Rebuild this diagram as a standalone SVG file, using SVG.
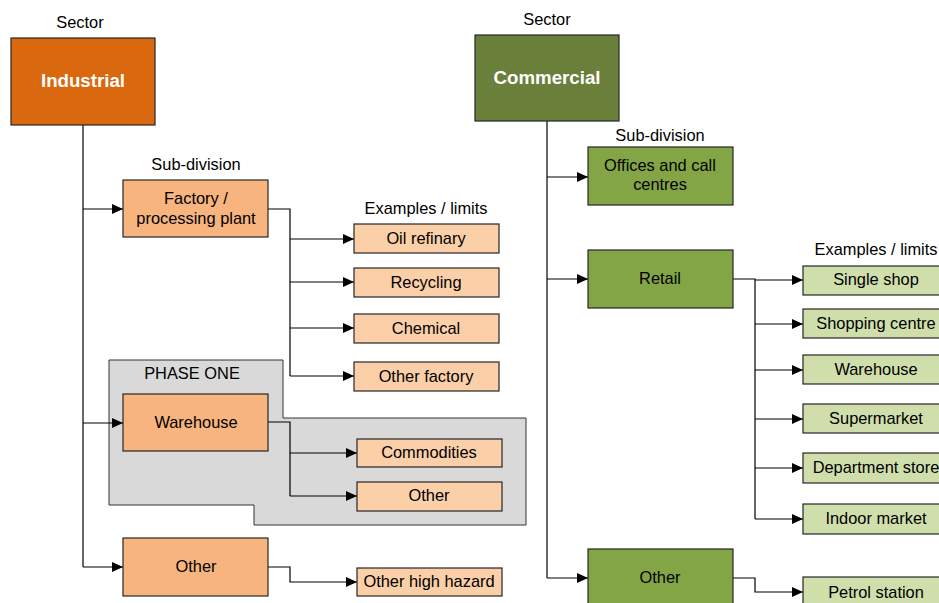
<svg xmlns="http://www.w3.org/2000/svg" width="939" height="603" viewBox="0 0 939 603">
<style>
text{font-family:"Liberation Sans",Arial,sans-serif;font-size:16.4px;fill:#000;text-anchor:middle}
.h{font-size:16.4px}
.t{font-size:18.7px;font-weight:bold;fill:#fff}
.box{stroke:#262626;stroke-width:1.2}
.ind{fill:#D9680F}.isub{fill:#F7B47E}.iex{fill:#FBCFA8}
.com{fill:#6A7F3A}.csub{fill:#84A546}.cex{fill:#CFDEAB}
.c{fill:none;stroke:#000;stroke-width:1.2}
</style>
<defs>
<marker id="a" markerWidth="12" markerHeight="10" refX="11" refY="5" orient="auto" markerUnits="userSpaceOnUse">
<path d="M0,0 L11,5 L0,10 z" fill="#000"/>
</marker>
</defs>
<rect width="939" height="603" fill="#fff"/>
<g id="phase-one">
<path d="M109,360 H283 V418 H526 V525 H254 V505 H109 Z" fill="#D9D9D9" stroke="#333" stroke-width="1"/>
<text x="192" y="379">PHASE ONE</text>
</g>
<g id="labels">
<text class="h" x="80" y="28">Sector</text>
<text class="h" x="196" y="170">Sub-division</text>
<text class="h" x="426" y="214">Examples / limits</text>
<text class="h" x="547" y="25">Sector</text>
<text class="h" x="660" y="141">Sub-division</text>
<text class="h" x="876" y="255">Examples / limits</text>
</g>
<g id="connectors">
<path class="c" d="M83,125 V567"/>
<path class="c" d="M83,209 H123" marker-end="url(#a)"/>
<path class="c" d="M83,423 H123" marker-end="url(#a)"/>
<path class="c" d="M83,567 H123" marker-end="url(#a)"/>
<path class="c" d="M268,209 H290 V376"/>
<path class="c" d="M290,239 H354" marker-end="url(#a)"/>
<path class="c" d="M290,282 H354" marker-end="url(#a)"/>
<path class="c" d="M290,328 H354" marker-end="url(#a)"/>
<path class="c" d="M290,376 H354" marker-end="url(#a)"/>
<path class="c" d="M268,422 H290 V496"/>
<path class="c" d="M290,453 H357" marker-end="url(#a)"/>
<path class="c" d="M290,496 H357" marker-end="url(#a)"/>
<path class="c" d="M268,567 H290 V582 H357" marker-end="url(#a)"/>
<path class="c" d="M547,121 V578"/>
<path class="c" d="M547,177 H588" marker-end="url(#a)"/>
<path class="c" d="M547,279 H588" marker-end="url(#a)"/>
<path class="c" d="M547,578 H588" marker-end="url(#a)"/>
<path class="c" d="M733,279 H755 V519"/>
<path class="c" d="M755,280 H803" marker-end="url(#a)"/>
<path class="c" d="M755,324 H803" marker-end="url(#a)"/>
<path class="c" d="M755,370 H803" marker-end="url(#a)"/>
<path class="c" d="M755,419 H803" marker-end="url(#a)"/>
<path class="c" d="M755,468 H803" marker-end="url(#a)"/>
<path class="c" d="M755,519 H803" marker-end="url(#a)"/>
<path class="c" d="M733,578 H755 V592 H803" marker-end="url(#a)"/>
</g>
<g id="industrial"><rect class="box ind" x="11" y="38" width="144" height="87"/><text class="t" x="83" y="87">Industrial</text></g>
<g id="factory"><rect class="box isub" x="123" y="180" width="145" height="57"/><text x="196" y="204">Factory /</text><text x="196" y="224">processing plant</text></g>
<g id="oil"><rect class="box iex" x="354" y="224" width="145" height="29"/><text x="426" y="244">Oil refinary</text></g>
<g id="recycling"><rect class="box iex" x="354" y="268" width="145" height="29"/><text x="426" y="288">Recycling</text></g>
<g id="chemical"><rect class="box iex" x="354" y="314" width="145" height="29"/><text x="426" y="334">Chemical</text></g>
<g id="otherfactory"><rect class="box iex" x="354" y="362" width="145" height="29"/><text x="426" y="382">Other factory</text></g>
<g id="warehouse-i"><rect class="box isub" x="123" y="394" width="145" height="57"/><text x="196" y="428">Warehouse</text></g>
<g id="commodities"><rect class="box iex" x="357" y="439" width="145" height="28"/><text x="429" y="458">Commodities</text></g>
<g id="other-w"><rect class="box iex" x="357" y="482" width="145" height="29"/><text x="429" y="501">Other</text></g>
<g id="other-i"><rect class="box isub" x="123" y="538" width="145" height="58"/><text x="196" y="572">Other</text></g>
<g id="highhazard"><rect class="box iex" x="357" y="568" width="145" height="28"/><text x="429" y="587">Other high hazard</text></g>
<g id="commercial"><rect class="box com" x="475" y="35" width="144" height="86"/><text class="t" x="547" y="84">Commercial</text></g>
<g id="offices"><rect class="box csub" x="588" y="147" width="145" height="58"/><text x="660" y="171">Offices and call</text><text x="660" y="190">centres</text></g>
<g id="retail"><rect class="box csub" x="588" y="250" width="145" height="58"/><text x="660" y="284">Retail</text></g>
<g id="singleshop"><rect class="box cex" x="803" y="266" width="146" height="29"/><text x="876" y="285">Single shop</text></g>
<g id="shoppingcentre"><rect class="box cex" x="803" y="309" width="146" height="29"/><text x="876" y="329">Shopping centre</text></g>
<g id="warehouse-c"><rect class="box cex" x="803" y="355" width="146" height="29"/><text x="876" y="375">Warehouse</text></g>
<g id="supermarket"><rect class="box cex" x="803" y="404" width="146" height="29"/><text x="876" y="424">Supermarket</text></g>
<g id="deptstore"><rect class="box cex" x="803" y="453" width="146" height="30"/><text x="876" y="473">Department store</text></g>
<g id="indoormarket"><rect class="box cex" x="803" y="504" width="146" height="30"/><text x="876" y="524">Indoor market</text></g>
<g id="other-c"><rect class="box csub" x="588" y="549" width="145" height="58"/><text x="660" y="583">Other</text></g>
<g id="petrol"><rect class="box cex" x="803" y="577" width="146" height="30"/><text x="876" y="598">Petrol station</text></g>
</svg>
